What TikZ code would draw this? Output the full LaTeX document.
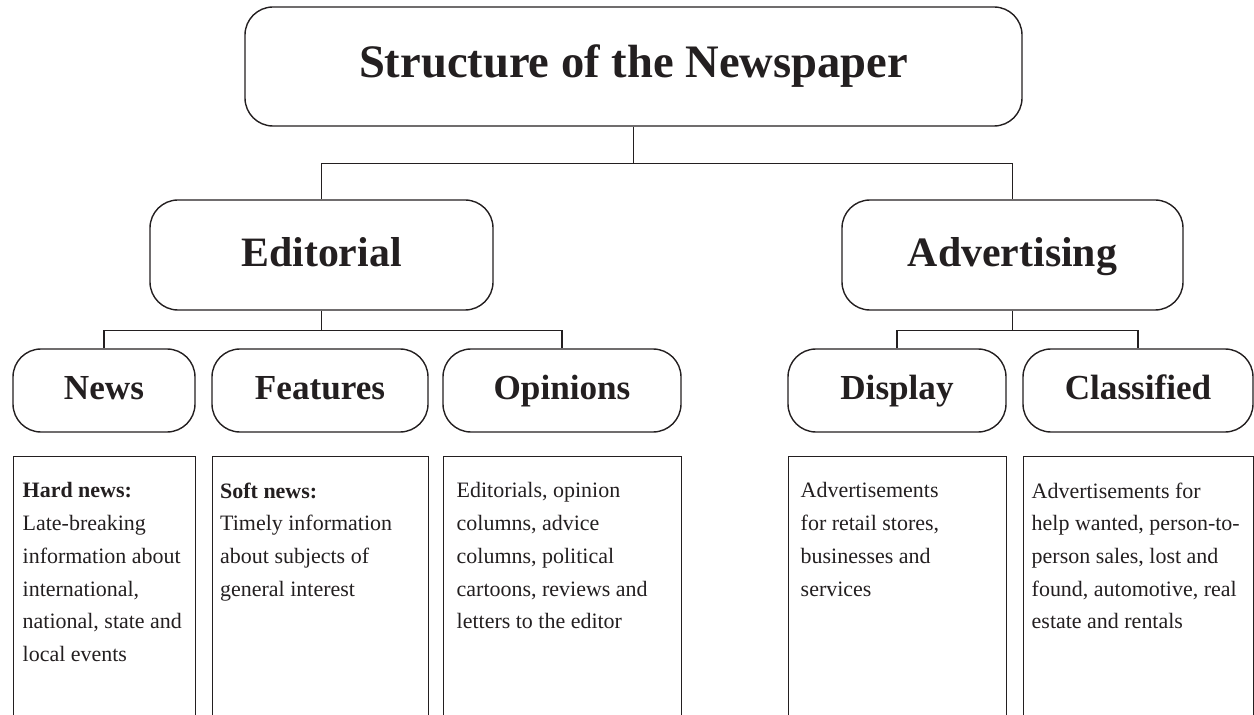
\documentclass[tikz,border=0pt]{standalone}
\usepackage{fontspec}
\setmainfont{Liberation Serif}
\definecolor{ink}{HTML}{231F20}

\begin{document}
\begin{tikzpicture}[
    line width=0.8pt, color=ink,
    head/.style={draw, rounded corners=0.56cm, inner sep=0pt},
    bighead/.style={head, font=\fontsize{23.8}{26}\selectfont\bfseries, minimum height=2.20cm, text height=17pt, text depth=3.4pt},
    smallhead/.style={head, font=\fontsize{20}{22}\selectfont\bfseries, minimum height=1.66cm, text height=14pt, text depth=3.2pt},
    frame/.style={draw, anchor=north west, inner sep=0pt, minimum height=7cm},
    desc/.style={anchor=north west, inner sep=0pt, align=left, font=\fontsize{12.5}{18.6}\selectfont}
]
    \useasboundingbox (0, 0) rectangle (25.08, -14.30);
    \clip (0, 0) rectangle (25.08, -14.30);

    % headings
    \node[head, minimum width=15.54cm, minimum height=2.38cm, font=\fontsize{26.5}{29}\selectfont\bfseries] (paper) at (12.67, -1.33) {Structure of the Newspaper};
    \node[bighead, minimum width=6.86cm] (edit) at (6.43, -5.10) {Editorial};
    \node[bighead, minimum width=6.82cm] (adv) at (20.25, -5.10) {Advertising};

    \node[smallhead, minimum width=3.64cm] (news) at (2.08, -7.81) {News};
    \node[smallhead, minimum width=4.32cm] (feat) at (6.40, -7.81) {Features};
    \node[smallhead, minimum width=4.76cm] (opin) at (11.24, -7.81) {Opinions};
    \node[smallhead, minimum width=4.36cm] (disp) at (17.94, -7.81) {Display};
    \node[smallhead, minimum width=4.60cm] (clas) at (22.76, -7.81) {Classified};

    % connectors
    \coordinate (top bus) at ([yshift=-0.74cm]paper.south);
    \draw (paper.south) -- (top bus);
    \draw (edit.north) |- (top bus) -| (adv.north);

    \coordinate (edit bus) at ([yshift=-0.40cm]edit.south);
    \draw (edit.south) -- (edit bus);
    \draw (news.north) |- (edit bus) -| (opin.north);

    \coordinate (adv bus) at ([yshift=-0.40cm]adv.south);
    \draw (adv.south) -- (adv bus);
    \draw (disp.north) |- (adv bus) -| (clas.north);

    % text boxes, open at the bottom
    \node[frame, minimum width=3.64cm] (hardbox) at (0.26, -9.12) {};
    \node[frame, minimum width=4.32cm] (softbox) at (4.24, -9.12) {};
    \node[frame, minimum width=4.76cm] (opinbox) at (8.86, -9.12) {};
    \node[frame, minimum width=4.36cm] (dispbox) at (15.76, -9.12) {};
    \node[frame, minimum width=4.60cm] (clasbox) at (20.46, -9.12) {};

    \node[desc] (hardtext) at ([shift={(0.18, -0.52)}]hardbox.north west) {\textbf{Hard news:}\\Late-breaking\\information about\\international,\\national, state and\\local events};
    \node[desc] (softtext) at ([shift={(0.15, -0.52)}]softbox.north west) {\textbf{Soft news:}\\Timely information\\about subjects of\\general interest};
    \node[desc] (opintext) at ([shift={(0.26, -0.52)}]opinbox.north west) {Editorials, opinion\\columns, advice\\columns, political\\cartoons, reviews and\\letters to the editor};
    \node[desc] (disptext) at ([shift={(0.24, -0.52)}]dispbox.north west) {Advertisements\\for retail stores,\\businesses and\\services};
    \node[desc] (clastext) at ([shift={(0.16, -0.52)}]clasbox.north west) {Advertisements for\\help wanted, person-to-\\person sales, lost and\\found, automotive, real\\estate and rentals};
\end{tikzpicture}
\end{document}
